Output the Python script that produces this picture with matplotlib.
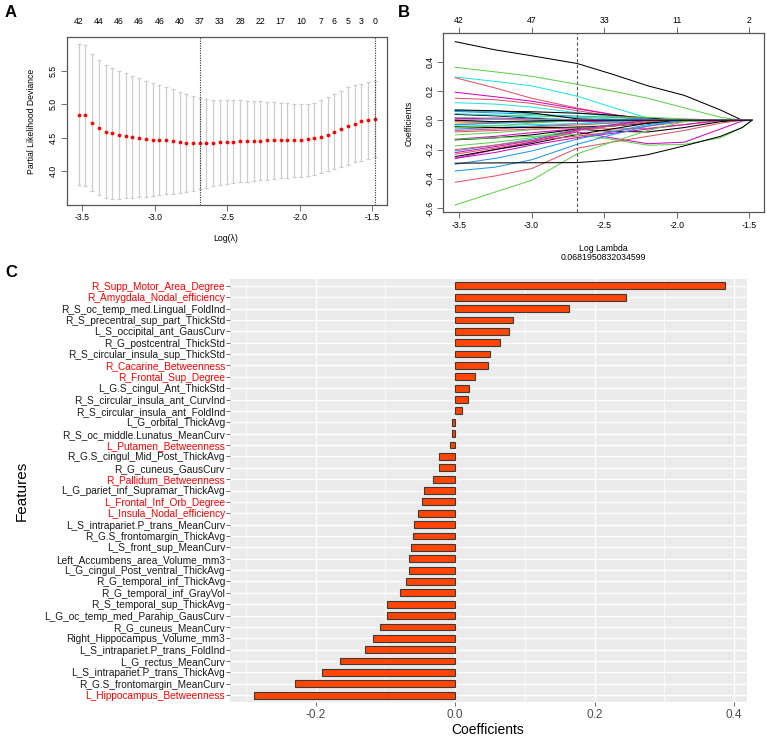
import numpy as np
import matplotlib.pyplot as plt

plt.rcParams['font.family'] = ['Liberation Sans', 'DejaVu Sans']
plt.rcParams['axes.unicode_minus'] = False

W, H = 767, 739

# ---- panel A: cross-validated partial likelihood deviance
cv_loglam = [-3.525, -3.479, -3.432, -3.386, -3.339, -3.293, -3.246, -3.200, -3.154,
             -3.107, -3.061, -3.014, -2.968, -2.921, -2.875, -2.829, -2.782, -2.736,
             -2.689, -2.643, -2.596, -2.550, -2.504, -2.457, -2.411, -2.364, -2.318,
             -2.271, -2.225, -2.179, -2.132, -2.086, -2.039, -1.993, -1.946, -1.900,
             -1.854, -1.807, -1.761, -1.714, -1.668, -1.621, -1.575, -1.529, -1.482]
cv_mean = [4.839, 4.834, 4.720, 4.650, 4.590, 4.566, 4.541, 4.520, 4.506, 4.490,
           4.487, 4.472, 4.467, 4.462, 4.447, 4.432, 4.427, 4.422, 4.416, 4.418,
           4.423, 4.432, 4.437, 4.442, 4.447, 4.452, 4.452, 4.457, 4.462, 4.467,
           4.467, 4.467, 4.467, 4.472, 4.477, 4.490, 4.515, 4.540, 4.585, 4.625,
           4.668, 4.707, 4.752, 4.764, 4.786]
cv_up = [5.897, 5.880, 5.743, 5.654, 5.584, 5.535, 5.495, 5.460, 5.420, 5.386,
         5.351, 5.320, 5.290, 5.257, 5.220, 5.187, 5.152, 5.120, 5.098, 5.078,
         5.068, 5.063, 5.063, 5.058, 5.058, 5.053, 5.048, 5.043, 5.038, 5.033,
         5.023, 5.013, 5.008, 5.003, 5.003, 5.024, 5.058, 5.103, 5.148, 5.203,
         5.250, 5.290, 5.305, 5.330, 5.344]
cv_lo = [3.791, 3.786, 3.712, 3.642, 3.607, 3.592, 3.592, 3.597, 3.602, 3.612,
         3.622, 3.632, 3.642, 3.657, 3.667, 3.677, 3.687, 3.710, 3.735, 3.755,
         3.775, 3.795, 3.816, 3.826, 3.836, 3.846, 3.856, 3.866, 3.876, 3.886,
         3.896, 3.905, 3.915, 3.920, 3.935, 3.950, 3.970, 4.000, 4.030, 4.069,
         4.099, 4.134, 4.159, 4.189, 4.218]
a_top_idx = [0, 3, 6, 9, 12, 15, 18, 21, 24, 27, 30, 33, 36, 38, 40, 42, 44]
a_top_df = [42, 44, 46, 46, 46, 40, 37, 33, 28, 22, 17, 10, 7, 6, 5, 3, 0]
idx_min, idx_1se = 18, 44

# ---- panel B: coefficient paths
lam_min = 0.0681950832034599
b_knots = [-3.525, -3.25, -3.0, -2.6856, -2.45, -2.2, -1.95, -1.7, -1.55, -1.482]
b_top_at = [-3.5, -3.0, -2.5, -2.0, -1.5]
b_top_df = [42, 47, 33, 11, 2]
pal = {'k': 'black', 'r': '#DF536B', 'g': '#61D04F', 'b': '#2297E6',
       'c': '#28E2E5', 'm': '#CD0BBC', 'y': '#F5C710', 'a': '#9E9E9E'}
b_cols = ['k', 'g', 'c', 'r', 'm', 'r', 'c', 'k', 'b', 'g', 'c', 'k', 'c', 'a', 'm', 'b',
          'c', 'r', 'g', 'k', 'r', 'm', 'k', 'g', 'b', 'm', 'r', 'm', 'k', 'g', 'r', 'm',
          'b', 'b', 'r', 'g', 'k', 'a', 'y', 'k', 'c', 'r', 'g', 'b', 'm', 'a', 'k']
b_paths = [
    [0.536, 0.480, 0.440, 0.387, 0.316, 0.235, 0.170, 0.070, 0.000, 0.0],
    [0.361, 0.330, 0.300, 0.245, 0.200, 0.150, 0.085, 0.020, 0.0, 0.0],
    [0.295, 0.265, 0.235, 0.164, 0.090, 0.015, 0.0, 0.0, 0.0, 0.0],
    [0.290, 0.220, 0.150, 0.083, 0.040, 0.0, 0.0, 0.0, 0.0, 0.0],
    [0.191, 0.160, 0.130, 0.078, 0.040, 0.005, 0.0, 0.0, 0.0, 0.0],
    [0.150, 0.140, 0.115, 0.065, 0.030, 0.0, 0.0, 0.0, 0.0, 0.0],
    [0.120, 0.110, 0.090, 0.051, 0.025, 0.0, 0.0, 0.0, 0.0, 0.0],
    [0.065, 0.062, 0.058, 0.048, 0.035, 0.015, 0.0, 0.0, 0.0, 0.0],
    [0.060, 0.050, 0.040, 0.028, 0.020, 0.008, 0.0, 0.0, 0.0, 0.0],
    [0.040, 0.035, 0.030, 0.020, 0.022, 0.020, 0.010, 0.0, 0.0, 0.0],
    [0.070, 0.060, 0.045, 0.018, 0.010, 0.0, 0.0, 0.0, 0.0, 0.0],
    [0.070, 0.065, 0.050, 0.010, 0.0, 0.0, 0.0, 0.0, 0.0, 0.0],
    [0.000, 0.005, 0.010, -0.004, 0.0, 0.0, 0.0, 0.0, 0.0, 0.0],
    [-0.030, -0.020, -0.015, -0.005, 0.0, 0.0, 0.0, 0.0, 0.0, 0.0],
    [0.015, 0.010, 0.005, -0.007, -0.010, 0.0, 0.0, 0.0, 0.0, 0.0],
    [-0.060, -0.050, -0.040, -0.023, -0.010, 0.0, 0.0, 0.0, 0.0, 0.0],
    [-0.040, -0.035, -0.030, -0.023, -0.015, -0.005, 0.0, 0.0, 0.0, 0.0],
    [-0.070, -0.060, -0.045, -0.032, -0.020, -0.005, 0.0, 0.0, 0.0, 0.0],
    [-0.100, -0.085, -0.065, -0.044, -0.035, -0.020, -0.005, 0.0, 0.0, 0.0],
    [-0.045, -0.050, -0.050, -0.048, -0.040, -0.020, 0.0, 0.0, 0.0, 0.0],
    [-0.080, -0.070, -0.060, -0.053, -0.060, -0.055, -0.030, -0.005, 0.0, 0.0],
    [-0.130, -0.110, -0.085, -0.059, -0.040, -0.015, 0.0, 0.0, 0.0, 0.0],
    [-0.134, -0.120, -0.100, -0.061, -0.075, -0.080, -0.050, -0.010, 0.0, 0.0],
    [-0.175, -0.150, -0.120, -0.064, -0.040, -0.010, 0.0, 0.0, 0.0, 0.0],
    [-0.209, -0.170, -0.130, -0.066, -0.030, 0.0, 0.0, 0.0, 0.0, 0.0],
    [-0.221, -0.180, -0.140, -0.066, -0.035, 0.0, 0.0, 0.0, 0.0, 0.0],
    [-0.232, -0.190, -0.150, -0.071, -0.040, -0.010, 0.0, 0.0, 0.0, 0.0],
    [-0.260, -0.200, -0.150, -0.079, -0.120, -0.160, -0.150, -0.060, -0.005, 0.0],
    [-0.248, -0.200, -0.160, -0.097, -0.060, -0.020, 0.0, 0.0, 0.0, 0.0],
    [-0.130, -0.120, -0.110, -0.097, -0.130, -0.170, -0.165, -0.120, -0.050, 0.0],
    [-0.200, -0.170, -0.140, -0.108, -0.080, -0.040, -0.010, 0.0, 0.0, 0.0],
    [-0.260, -0.220, -0.170, -0.118, -0.090, -0.060, -0.030, 0.0, 0.0, 0.0],
    [-0.300, -0.260, -0.210, -0.129, -0.080, -0.030, 0.0, 0.0, 0.0, 0.0],
    [-0.346, -0.320, -0.270, -0.164, -0.100, -0.040, 0.0, 0.0, 0.0, 0.0],
    [-0.423, -0.380, -0.330, -0.191, -0.150, -0.110, -0.070, -0.020, 0.0, 0.0],
    [-0.578, -0.490, -0.410, -0.229, -0.150, -0.070, -0.010, 0.0, 0.0, 0.0],
    [-0.293, -0.291, -0.290, -0.289, -0.272, -0.235, -0.175, -0.110, -0.050, 0.0],
    [0.020, 0.010, 0.005, 0.0, 0.0, 0.0, 0.0, 0.0, 0.0, 0.0],
    [-0.020, -0.015, -0.005, 0.0, 0.0, 0.0, 0.0, 0.0, 0.0, 0.0],
    [0.040, 0.030, 0.015, 0.0, 0.0, 0.0, 0.0, 0.0, 0.0, 0.0],
    [0.045, 0.035, 0.020, 0.0, 0.0, 0.0, 0.0, 0.0, 0.0, 0.0],
    [-0.010, -0.015, -0.010, 0.0, 0.0, 0.0, 0.0, 0.0, 0.0, 0.0],
    [-0.050, -0.040, -0.020, 0.0, 0.0, 0.0, 0.0, 0.0, 0.0, 0.0],
    [-0.030, -0.020, -0.010, 0.0, 0.0, 0.0, 0.0, 0.0, 0.0, 0.0],
    [0.010, 0.015, 0.008, 0.0, 0.0, 0.0, 0.0, 0.0, 0.0, 0.0],
    [0.000, 0.010, 0.005, 0.0, 0.0, 0.0, 0.0, 0.0, 0.0, 0.0],
    [0.000, -0.010, -0.005, 0.0, 0.0, 0.0, 0.0, 0.0, 0.0, 0.0],
]

# ---- panel C: selected features
features = ['R_Supp_Motor_Area_Degree', 'R_Amygdala_Nodal_efficiency',
            'R_S_oc_temp_med.Lingual_FoldInd', 'R_S_precentral_sup_part_ThickStd',
            'L_S_occipital_ant_GausCurv', 'R_G_postcentral_ThickStd',
            'R_S_circular_insula_sup_ThickStd', 'R_Cacarine_Betweenness',
            'R_Frontal_Sup_Degree', 'L_G.S_cingul_Ant_ThickStd',
            'R_S_circular_insula_ant_CurvInd', 'R_S_circular_insula_ant_FoldInd',
            'L_G_orbital_ThickAvg', 'R_S_oc_middle.Lunatus_MeanCurv',
            'L_Putamen_Betweenness', 'R_G.S_cingul_Mid_Post_ThickAvg',
            'R_G_cuneus_GausCurv', 'R_Pallidum_Betweenness',
            'L_G_pariet_inf_Supramar_ThickAvg', 'L_Frontal_Inf_Orb_Degree',
            'L_Insula_Nodal_efficiency', 'L_S_intrapariet.P_trans_MeanCurv',
            'R_G.S_frontomargin_ThickAvg', 'L_S_front_sup_MeanCurv',
            'Left_Accumbens_area_Volume_mm3', 'L_G_cingul_Post_ventral_ThickAvg',
            'R_G_temporal_inf_ThickAvg', 'R_G_temporal_inf_GrayVol',
            'R_S_temporal_sup_ThickAvg', 'L_G_oc_temp_med_Parahip_GausCurv',
            'R_G_cuneus_MeanCurv', 'Right_Hippocampus_Volume_mm3',
            'L_S_intrapariet.P_trans_FoldInd', 'L_G_rectus_MeanCurv',
            'L_S_intrapariet.P_trans_ThickAvg', 'R_G.S_frontomargin_MeanCurv',
            'L_Hippocampus_Betweenness']
coefs = [0.387, 0.245, 0.1635, 0.0827, 0.0779, 0.0645, 0.0506, 0.0478, 0.0282, 0.0201,
         0.0182, 0.0100, -0.0038, -0.0048, -0.0067, -0.0225, -0.0234, -0.0320, -0.0440,
         -0.0478, -0.0525, -0.0592, -0.0607, -0.0636, -0.0664, -0.0664, -0.0707, -0.0793,
         -0.0970, -0.0970, -0.1080, -0.1180, -0.1290, -0.1644, -0.1910, -0.2290, -0.2886]
red_feats = ['R_Supp_Motor_Area_Degree', 'R_Amygdala_Nodal_efficiency',
             'R_Cacarine_Betweenness', 'R_Frontal_Sup_Degree', 'L_Putamen_Betweenness',
             'R_Pallidum_Betweenness', 'L_Frontal_Inf_Orb_Degree',
             'L_Insula_Nodal_efficiency', 'L_Hippocampus_Betweenness']


def box(l, t, r, b):
    return [l / W, 1 - b / H, (r - l) / W, (b - t) / H]


def ftext(x, y, s, **kw):
    fig.text(x / W, 1 - y / H, s, **kw)


fig = plt.figure(figsize=(W / 100, H / 100), dpi=100)

# A
axA = fig.add_axes(box(66.7, 37.3, 386.7, 204.7))
err = [[m - lo for m, lo in zip(cv_mean, cv_lo)], [u - m for m, u in zip(cv_mean, cv_up)]]
axA.errorbar(cv_loglam, cv_mean, yerr=err, fmt='none', ecolor='#cdcdcd',
             elinewidth=0.9, capsize=1.7, capthick=0.9)
axA.plot(cv_loglam, cv_mean, 'o', color='red', ms=2.7, mew=0)
for i in (idx_min, idx_1se):
    axA.axvline(cv_loglam[i], color='#333333', lw=0.8, ls=(0, (1, 1.2)))
axA.set_xlim(-3.607, -1.400)
axA.set_ylim(3.502, 5.998)
axA.set_xticks([-3.5, -3.0, -2.5, -2.0, -1.5])
axA.set_yticks([4.0, 4.5, 5.0, 5.5], ['4.0', '4.5', '5.0', '5.5'], rotation=90, va='center')
axA.tick_params(labelsize=6.3, length=4, width=0.6, color='#555555', pad=2.3)
for s in axA.spines.values():
    s.set_color('#555555')
    s.set_linewidth(0.9)
topA = axA.secondary_xaxis('top')
topA.set_xticks([cv_loglam[i] for i in a_top_idx], [str(n) for n in a_top_df])
topA.tick_params(length=0, labelsize=6.3, pad=8.3)
topA.spines['top'].set_visible(False)
ftext(32, 121, 'Partial Likelihood Deviance', rotation=90, ha='center', va='center', fontsize=6.2)
ftext(226, 239, 'Log(\u03bb)', ha='center', va='center', fontsize=6.3)

# B
axB = fig.add_axes(box(443.3, 33.3, 764, 212.3))
for ys, c in zip(b_paths, b_cols):
    axB.plot(b_knots, ys, color=pal[c], lw=0.75)
axB.axvline(np.log(lam_min), color='#555555', lw=0.8, ls=(0, (3, 2)))
axB.set_xlim(-3.607, -1.400)
axB.set_ylim(-0.628, 0.593)
axB.set_xticks([-3.5, -3.0, -2.5, -2.0, -1.5])
axB.set_yticks([-0.6, -0.4, -0.2, 0.0, 0.2, 0.4],
               ['-0.6', '-0.4', '-0.2', '0.0', '0.2', '0.4'], rotation=90, va='center')
axB.tick_params(labelsize=6.3, length=4, width=0.6, color='#555555', pad=2.3)
for s in axB.spines.values():
    s.set_color('#555555')
    s.set_linewidth(0.9)
topB = axB.secondary_xaxis('top')
topB.set_xticks(b_top_at, [str(n) for n in b_top_df])
topB.tick_params(length=4, width=0.6, color='#555555', labelsize=6.3, pad=2.3)
topB.spines['top'].set_visible(False)
ftext(409, 123, 'Coefficients', rotation=90, ha='center', va='center', fontsize=6.2)
ftext(603, 248, 'Log Lambda', ha='center', va='center', fontsize=6.3)
ftext(603, 258, str(lam_min), ha='center', va='center', fontsize=6.3)

# C
axC = fig.add_axes(box(230, 279, 747, 702))
axC.set_facecolor('#EBEBEB')
n = len(features)
ypos = [n - 1 - i for i in range(n)]
axC.barh(ypos, coefs, height=0.6, color='#FF4500', edgecolor='#3a3a3a', linewidth=0.8, zorder=3)
axC.set_yticks(ypos, features)
for lab in axC.get_yticklabels():
    lab.set_color('red' if lab.get_text() in red_feats else '#1a1a1a')
axC.set_ylim(-0.6, n - 1 + 0.6)
axC.set_xlim(-0.3226, 0.4186)
axC.set_xticks([-0.2, 0.0, 0.2, 0.4], ['-0.2', '0.0', '0.2', '0.4'])
axC.set_xticks([-0.3, -0.1, 0.1, 0.3], minor=True)
axC.set_axisbelow(True)
axC.grid(True, which='major', color='white', lw=1.0)
axC.grid(True, which='minor', axis='x', color='white', lw=0.5)
for s in axC.spines.values():
    s.set_visible(False)
axC.tick_params(axis='y', which='major', length=2.75, color='#333333', width=0.5,
                labelsize=7.3, pad=0.8)
axC.tick_params(axis='x', which='major', length=2.75, color='#333333', width=0.5,
                labelsize=8.5, labelcolor='#4D4D4D', pad=2)
axC.tick_params(which='minor', length=0)
ftext(22, 491, 'Features', rotation=90, ha='center', va='center', fontsize=11)
ftext(488, 730, 'Coefficients', ha='center', va='center', fontsize=10)

ftext(5, 17.3, 'A', fontsize=12, fontweight='bold', va='baseline')
ftext(398, 16.7, 'B', fontsize=12, fontweight='bold', va='baseline')
ftext(5, 277, 'C', fontsize=12, fontweight='bold', va='baseline')

fig.savefig('out.png', dpi=100)
